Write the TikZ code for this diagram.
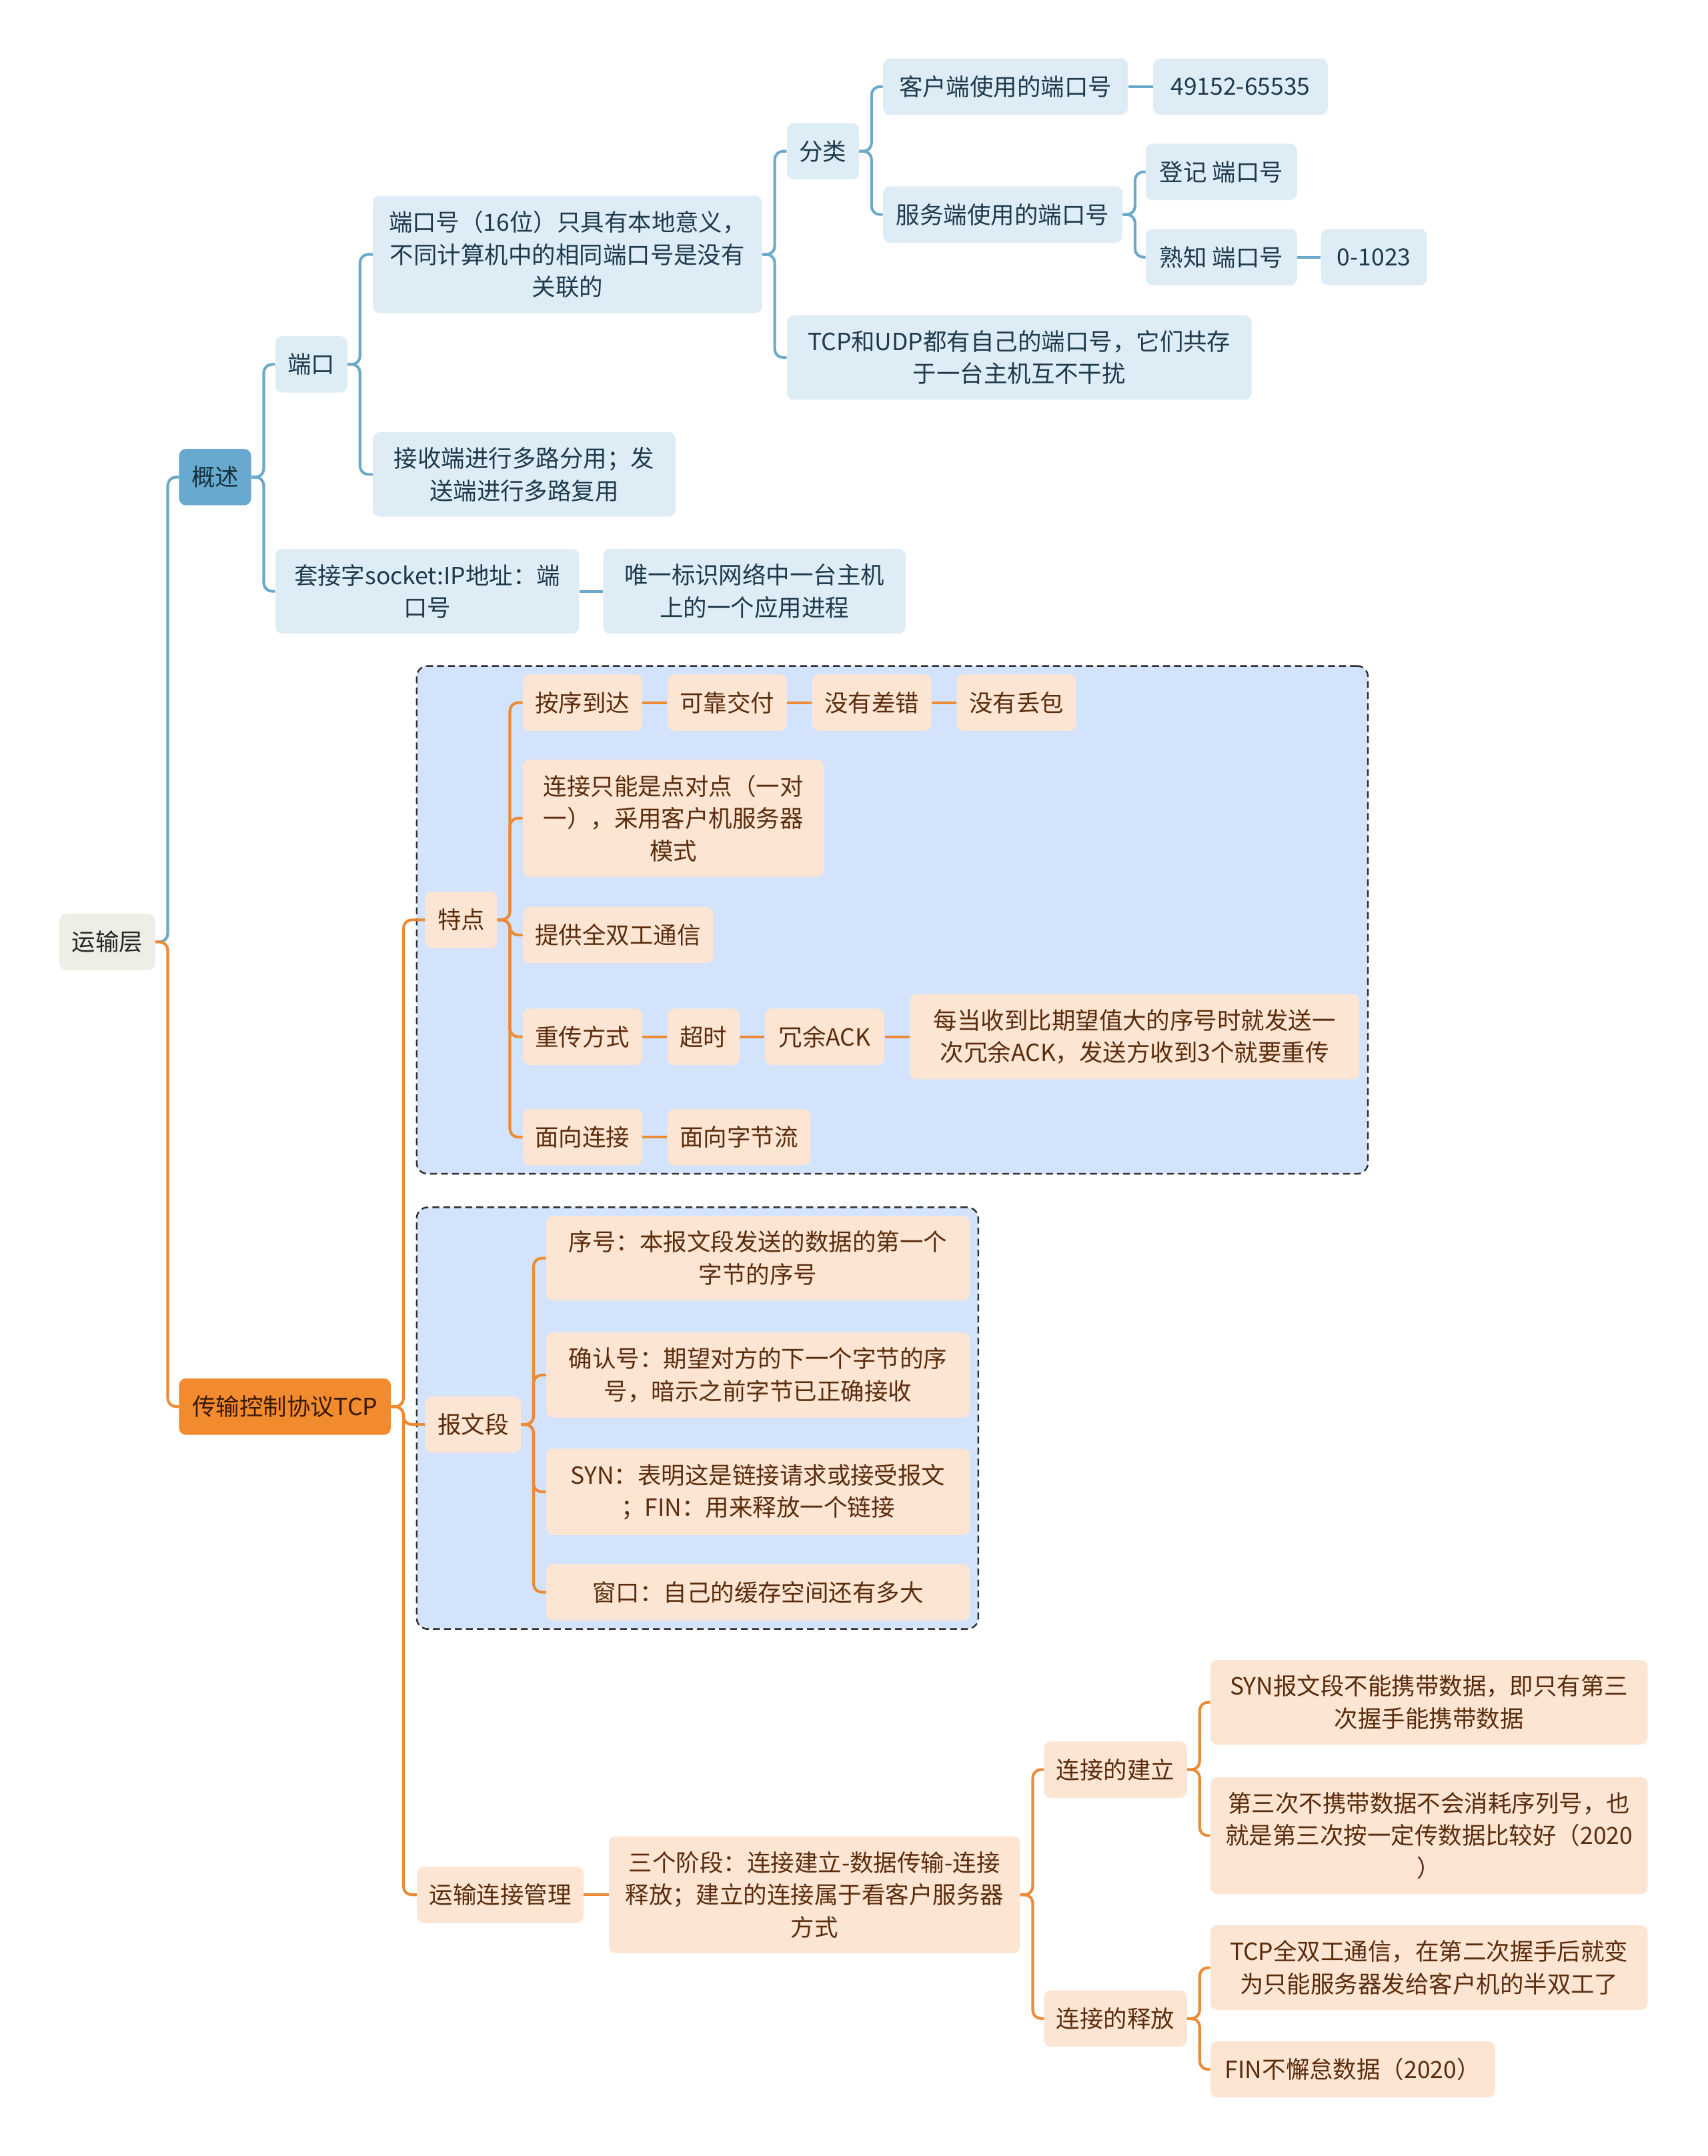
\documentclass[tikz,border=0pt]{standalone}
\usepackage{fontspec}
\setmainfont{Noto Sans CJK SC}
\usepackage{tikz}
\usetikzlibrary{positioning,fit,backgrounds}
\definecolor{RootFill}{HTML}{EEEEE6}
\definecolor{RootText}{HTML}{262626}
\definecolor{Blue}{HTML}{68AACF}
\definecolor{BlueDark}{HTML}{16303F}
\definecolor{BlueLight}{HTML}{DEEDF5}
\definecolor{BlueText}{HTML}{1F3A4D}
\definecolor{BlueLine}{HTML}{6CA9C9}
\definecolor{Orange}{HTML}{F28A2E}
\definecolor{OrangeDark}{HTML}{3A1905}
\definecolor{OrangeLight}{HTML}{FCE5D3}
\definecolor{OrangeText}{HTML}{5A2C0C}
\definecolor{OrangeLine}{HTML}{EC8A35}
\definecolor{GroupFill}{HTML}{D3E3FB}
\definecolor{GroupLine}{HTML}{303030}
\tikzset{base/.style={rounded corners=5pt,align=center,minimum height=41pt,inner xsep=9pt,inner ysep=11pt,font=\fontsize{17.2pt}{23.5pt}\selectfont},rootbox/.style={base,fill=RootFill,text=RootText},bluehead/.style={base,fill=Blue,text=BlueDark},bluebox/.style={base,fill=BlueLight,text=BlueText},orangehead/.style={base,fill=Orange,text=OrangeDark},orangebox/.style={base,fill=OrangeLight,text=OrangeText},grpbox/.style={rounded corners=8pt,draw=GroupLine,fill=GroupFill,dash pattern=on 5pt off 3pt,line width=1.2pt,inner sep=6pt},blueline/.style={draw=BlueLine,line width=2pt,rounded corners=6pt},orangeline/.style={draw=OrangeLine,line width=2pt,rounded corners=6pt}}

\begin{document}
\begin{tikzpicture}[x=1pt,y=-1pt]
      \useasboundingbox (0,0) rectangle (1242,1568);
      \node[rootbox,anchor=west](root) at (43,685){运输层};
      \node[bluehead,anchor=west](gaishu) at (130,347){概述};
      \node[orangehead,anchor=west,minimum width=154pt](tcp) at (130,1023){传输控制协议TCP};
      % blue side
      \node[bluebox,anchor=west](duankou) at (200,265){端口};
      \node[bluebox,anchor=west,minimum width=221pt](taojiezi) at (200,430){套接字socket:IP地址：端\\口号};
      \node[bluebox,right=17pt of taojiezi,minimum width=220pt](weiyi){唯一标识网络中一台主机\\上的一个应用进程};
      \node[bluebox,anchor=west,minimum width=283pt](dkh) at (271,185){端口号（16位）只具有本地意义，\\不同计算机中的相同端口号是没有\\关联的};
      \node[bluebox,anchor=west,minimum width=220pt](jieshou) at (271,345){接收端进行多路分用；发\\送端进行多路复用};
      \node[bluebox,anchor=west](fenlei) at (572,110){分类};
      \node[bluebox,anchor=west,minimum width=338pt](tcpudp) at (572,260){TCP和UDP都有自己的端口号，它们共存\\于一台主机互不干扰};
      \node[bluebox,anchor=west,minimum width=178pt](kehu) at (642,63){客户端使用的端口号};
      \node[bluebox,right=18pt of kehu,minimum width=127pt](kehunum){49152-65535};
      \node[bluebox,anchor=west,minimum width=174pt](fuwu) at (642,156){服务端使用的端口号};
      \node[bluebox,anchor=west,minimum width=110pt](dengji) at (833,125){登记 端口号};
      \node[bluebox,anchor=west,minimum width=110pt](shuzhi) at (833,187){熟知 端口号};
      \node[bluebox,right=17pt of shuzhi,minimum width=77pt](shuzhinum){0-1023};
      % orange side
      \node[orangebox,anchor=west](tedian) at (309,669){特点};
      \node[orangebox,anchor=west](anxu) at (380,511){按序到达};
      \node[orangebox,right=18pt of anxu](kekao){可靠交付};
      \node[orangebox,right=18pt of kekao](chacuo){没有差错};
      \node[orangebox,right=18pt of chacuo](diubao){没有丢包};
      \node[orangebox,anchor=west,minimum width=219pt](dianduidian) at (380,595){连接只能是点对点（一对\\一），采用客户机服务器\\模式};
      \node[orangebox,anchor=west](quanshuang) at (380,680){提供全双工通信};
      \node[orangebox,anchor=west](chongchuan) at (380,754){重传方式};
      \node[orangebox,right=18pt of chongchuan](chaoshi){超时};
      \node[orangebox,right=18pt of chaoshi,minimum width=87pt](rongyu){冗余ACK};
      \node[orangebox,right=18pt of rongyu,minimum width=327pt](meidang){每当收到比期望值大的序号时就发送一\\次冗余ACK，发送方收到3个就要重传};
      \node[orangebox,anchor=west](mianxiang) at (380,827){面向连接};
      \node[orangebox,right=18pt of mianxiang](zijieliu){面向字节流};
      \node[orangebox,anchor=west](baowen) at (309,1036){报文段};
      \node[orangebox,anchor=west,minimum width=308pt](xuhao) at (397,915){序号：本报文段发送的数据的第一个\\字节的序号};
      \node[orangebox,anchor=west,minimum width=308pt](queren) at (397,1000){确认号：期望对方的下一个字节的序\\号，暗示之前字节已正确接收};
      \node[orangebox,anchor=west,minimum width=308pt](syn) at (397,1085){SYN：表明这是链接请求或接受报文\\；FIN：用来释放一个链接};
      \node[orangebox,anchor=west,minimum width=308pt](chuangkou) at (397,1158){窗口：自己的缓存空间还有多大};
      \node[orangebox,anchor=west](guanli) at (303,1378){运输连接管理};
      \node[orangebox,right=18pt of guanli,minimum width=299pt](jieduan){三个阶段：连接建立-数据传输-连接\\释放；建立的连接属于看客户服务器\\方式};
      \node[orangebox,anchor=west](jianli) at (759,1287){连接的建立};
      \node[orangebox,anchor=west](shifang) at (759,1468){连接的释放};
      \node[orangebox,anchor=west,minimum width=318pt](synbw) at (880,1238){SYN报文段不能携带数据，即只有第三\\次握手能携带数据};
      \node[orangebox,anchor=west,minimum width=318pt](disanci) at (880,1335){第三次不携带数据不会消耗序列号，也\\就是第三次按一定传数据比较好（2020\\）};
      \node[orangebox,anchor=west,minimum width=318pt](quansg) at (880,1431){TCP全双工通信，在第二次握手后就变\\为只能服务器发给客户机的半双工了};
      \node[orangebox,anchor=west,minimum width=207pt](fin) at (880,1505){FIN不懈怠数据（2020）};
      % dashed groups
      \begin{scope}[on background layer]
        \node[grpbox,fit=(tedian)(anxu)(meidang)(mianxiang)](grpa){};
        \node[grpbox,fit=(baowen)(xuhao)(chuangkou)](grpb){};
      \end{scope}
      % connectors
      \foreach \a/\b in {root/gaishu,gaishu/duankou,gaishu/taojiezi,duankou/dkh,duankou/jieshou,dkh/fenlei,dkh/tcpudp,fenlei/kehu,fenlei/fuwu,fuwu/dengji,fuwu/shuzhi}
        \draw[blueline](\a.east)--++(9,0)|-(\b.west);
      \foreach \a/\b in {kehu/kehunum,shuzhi/shuzhinum,taojiezi/weiyi}
        \draw[blueline](\a)--(\b);
      \foreach \a/\b in {root/tcp,tcp/tedian,tcp/baowen,tcp/guanli,tedian/anxu,tedian/dianduidian,tedian/quanshuang,tedian/chongchuan,tedian/mianxiang,baowen/xuhao,baowen/queren,baowen/syn,baowen/chuangkou,jieduan/jianli,jieduan/shifang,jianli/synbw,jianli/disanci,shifang/quansg,shifang/fin}
        \draw[orangeline](\a.east)--++(9,0)|-(\b.west);
      \foreach \a/\b in {anxu/kekao,kekao/chacuo,chacuo/diubao,chongchuan/chaoshi,chaoshi/rongyu,rongyu/meidang,mianxiang/zijieliu,guanli/jieduan}
        \draw[orangeline](\a)--(\b);
    \end{tikzpicture}
\end{document}
